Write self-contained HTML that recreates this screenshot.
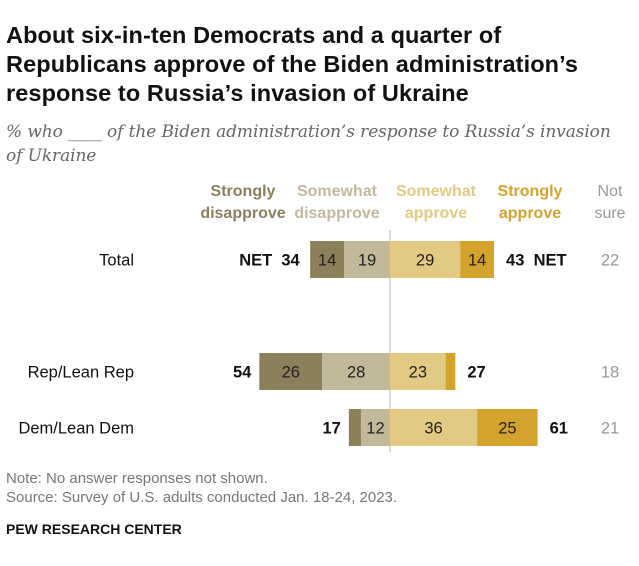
<!DOCTYPE html>
<html><head><meta charset="utf-8"><style>
body{margin:0;background:#fff;font-family:"Liberation Sans",sans-serif;}
#wrap{position:relative;width:639px;height:566px;overflow:hidden;}
.t{position:absolute;white-space:nowrap;}
</style></head><body><div id="wrap">
<div class="t" style="left:6px;top:21px;font-size:23.5px;font-weight:bold;line-height:29px;color:#111;letter-spacing:0.1px">About six-in-ten Democrats and a quarter of<br>Republicans approve of the Biden administration’s<br>response to Russia’s invasion of Ukraine</div>
<div class="t" style="left:6px;top:120px;font-size:17px;font-style:italic;font-family:'DejaVu Serif',serif;color:#666;line-height:24px;letter-spacing:-0.1px">% who ____ of the Biden administration’s response to Russia’s invasion<br>of Ukraine</div>
<svg id="c" width="639" height="566" style="position:absolute;left:0;top:0"></svg>
<div class="t" style="left:6px;top:470px;font-size:15px;color:#777">Note: No answer responses not shown.</div>
<div class="t" style="left:6px;top:489px;font-size:15px;color:#777">Source: Survey of U.S. adults conducted Jan. 18-24, 2023.</div>
<div class="t" style="left:6px;top:521px;font-size:14px;font-weight:bold;color:#111">PEW RESEARCH CENTER</div>
</div>
<script>
const categories=["Total","Rep/Lean Rep","Dem/Lean Dem"];
const stronglyDisapprove=[14,26,5];
const somewhatDisapprove=[19,28,12];
const somewhatApprove=[29,23,36];
const stronglyApprove=[14,4,25];
const netDisapprove=[34,54,17];
const netApprove=[43,27,61];
const notSure=[22,18,21];
const showSegLabel=[[true,true,true,true],[true,true,true,false],[false,true,true,true]];
const svg=document.getElementById('c');const NS='http://www.w3.org/2000/svg';
const cx=390,k=2.42,rowY=[241,353,409],bh=37;
const x=v=>cx+v*k;
function el(t,a,txt){const e=document.createElementNS(NS,t);for(const n in a)e.setAttribute(n,a[n]);if(txt!=null)e.textContent=txt;svg.appendChild(e);return e;}
const cols=['#8c805a','#c2b99b','#e3ca82','#d4a32e'];
const heads=[['Strongly','disapprove',243,'#8c805a',true],['Somewhat','disapprove',337,'#c2b99b',true],['Somewhat','approve',436,'#e3ca82',true],['Strongly','approve',530,'#d4a32e',true],['Not','sure',610,'#999',false]];
heads.forEach((h,i)=>{[h[0],h[1]].forEach((s,j)=>{const t=el('text',{x:h[2],y:196+j*22,'text-anchor':'middle','font-size':16,'font-weight':h[4]?'bold':'normal',fill:h[3]},s);

});});
const ax=el('line',{x1:cx,x2:cx,y1:230,y2:452,stroke:'#ccc','stroke-width':1.5});


categories.forEach((c,i)=>{const y=rowY[i],ty=y+bh/2+6;
const lab=el('text',{x:134,y:ty,'text-anchor':'end','font-size':16.5,fill:'#111'},c);


const segs=[[-stronglyDisapprove[i]-somewhatDisapprove[i],stronglyDisapprove[i]],[-somewhatDisapprove[i],somewhatDisapprove[i]],[0,somewhatApprove[i]],[somewhatApprove[i],stronglyApprove[i]]];
segs.forEach((s,j)=>{const r=el('rect',{x:x(s[0]),y:y,width:s[1]*k,height:bh,fill:cols[j]});


if(showSegLabel[i][j]){const t=el('text',{x:x(s[0]+s[1]/2),y:ty,'text-anchor':'middle','font-size':16.5,fill:'#222'},s[1]);

}});
const left=x(-netDisapprove[i])-8,right=x(netApprove[i])+10;
const nd=el('text',{x:left,y:ty,'text-anchor':'end','font-size':16.5,'font-weight':'bold',fill:'#111'},(i==0?'NET  ':'')+netDisapprove[i]);


nd.style.whiteSpace='pre';
const na=el('text',{x:right+2,y:ty,'text-anchor':'start','font-size':16.5,'font-weight':'bold',fill:'#111'},netApprove[i]+(i==0?'  NET':''));


na.style.whiteSpace='pre';
const ns=el('text',{x:610,y:ty,'text-anchor':'middle','font-size':16.5,fill:'#999'},notSure[i]);


});
</script></body></html>
